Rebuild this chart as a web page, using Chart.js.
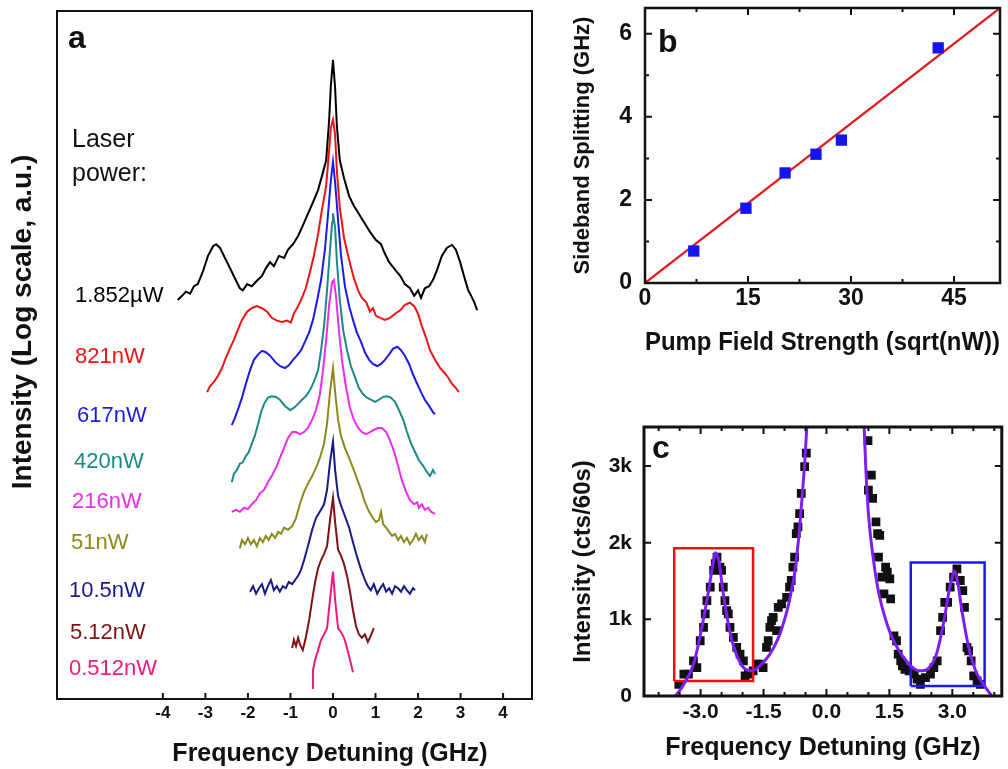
<!DOCTYPE html>
<html>
<head>
<meta charset="utf-8">
<script src="https://cdn.jsdelivr.net/npm/chart.js@4.4.1/dist/chart.umd.min.js"></script>
<style>
  body { margin: 0; background: #fff; width: 1008px; height: 769px; overflow: hidden; position: relative; }
  canvas { position: absolute; }
</style>
</head>
<body>
<canvas id="chartA" width="545" height="769" style="left:0;top:0"></canvas>
<canvas id="chartB" width="448" height="370" style="left:560px;top:0"></canvas>
<canvas id="chartC" width="448" height="369" style="left:560px;top:400px"></canvas>
<script>
// ---- panel a: spectra, [detuning GHz, log intensity a.u. with offset] ----
const p1852uW = [[-3.65,58.0],[-3.55,58.6],[-3.46,59.2],[-3.36,58.9],[-3.27,60.0],[-3.18,60.3],[-3.06,62.1],[-2.94,64.4],[-2.82,65.8],[-2.75,66.1],[-2.66,65.6],[-2.54,64.1],[-2.42,62.6],[-2.31,61.2],[-2.19,59.7],[-2.12,59.4],[-2.02,60.3],[-1.91,60.0],[-1.79,60.8],[-1.67,61.5],[-1.58,62.6],[-1.48,63.5],[-1.39,62.9],[-1.27,64.4],[-1.15,64.1],[-1.06,65.3],[-0.94,66.1],[-0.82,67.3],[-0.71,68.8],[-0.59,70.5],[-0.47,72.2],[-0.35,74.0],[-0.26,76.0],[-0.16,78.3],[-0.09,84.2],[-0.05,89.2],[0.00,92.9],[0.05,88.8],[0.09,83.4],[0.16,78.3],[0.26,75.7],[0.38,73.1],[0.49,71.7],[0.61,70.5],[0.73,69.3],[0.87,67.9],[1.01,66.7],[1.13,66.1],[1.20,65.0],[1.32,63.5],[1.46,62.4],[1.58,61.5],[1.69,60.3],[1.81,59.7],[1.91,58.6],[2.00,59.4],[2.07,58.3],[2.16,59.7],[2.26,60.0],[2.35,60.9],[2.45,62.4],[2.56,64.4],[2.68,65.6],[2.80,66.0],[2.89,65.3],[2.99,63.5],[3.08,61.5],[3.18,59.4],[3.25,58.6],[3.32,57.7],[3.39,56.5]];
const p821nW = [[-2.96,44.6],[-2.89,45.5],[-2.80,46.1],[-2.71,46.9],[-2.61,48.1],[-2.52,49.6],[-2.42,51.0],[-2.33,52.2],[-2.24,53.6],[-2.14,55.1],[-2.02,56.3],[-1.91,56.8],[-1.79,57.1],[-1.67,56.8],[-1.55,56.3],[-1.44,55.4],[-1.32,55.0],[-1.20,54.8],[-1.08,55.0],[-0.99,54.7],[-0.92,56.0],[-0.82,57.1],[-0.73,58.3],[-0.64,59.7],[-0.54,62.1],[-0.45,64.4],[-0.35,67.6],[-0.26,71.1],[-0.16,74.6],[-0.09,79.8],[-0.05,83.0],[0.00,84.2],[0.05,82.0],[0.09,76.9],[0.16,71.4],[0.26,67.0],[0.38,63.8],[0.49,61.2],[0.59,59.4],[0.68,58.3],[0.78,57.7],[0.87,56.3],[0.94,56.8],[1.01,55.7],[1.11,55.4],[1.22,55.1],[1.34,55.4],[1.46,56.0],[1.58,56.5],[1.69,57.3],[1.81,57.6],[1.91,57.1],[2.00,56.0],[2.09,54.2],[2.19,52.5],[2.28,50.7],[2.40,49.3],[2.52,48.1],[2.61,47.5],[2.71,46.7],[2.80,45.8],[2.89,45.2],[2.96,44.6]];
const p617nW = [[-2.38,39.8],[-2.31,40.8],[-2.24,42.0],[-2.14,43.8],[-2.05,45.8],[-1.95,47.8],[-1.86,49.3],[-1.76,50.1],[-1.67,50.6],[-1.58,50.4],[-1.48,49.9],[-1.36,49.0],[-1.25,48.4],[-1.13,48.1],[-1.04,48.5],[-0.94,49.3],[-0.85,49.9],[-0.75,50.7],[-0.66,51.9],[-0.56,53.3],[-0.47,55.1],[-0.38,57.7],[-0.28,60.9],[-0.19,65.3],[-0.12,70.2],[-0.05,75.4],[0.00,78.1],[0.05,75.1],[0.12,69.6],[0.19,64.4],[0.28,60.0],[0.38,57.1],[0.47,55.1],[0.56,53.3],[0.66,51.9],[0.75,50.4],[0.85,49.3],[0.94,48.7],[1.04,48.4],[1.13,48.7],[1.22,49.3],[1.32,50.1],[1.41,50.9],[1.51,51.2],[1.60,50.7],[1.69,49.9],[1.79,48.7],[1.88,47.2],[1.98,45.8],[2.07,44.6],[2.16,43.5],[2.26,42.6],[2.35,41.7],[2.40,41.4]];
const p420nW = [[-2.38,31.5],[-2.33,32.7],[-2.26,33.3],[-2.19,34.2],[-2.12,34.4],[-2.05,35.3],[-1.98,35.9],[-1.91,37.1],[-1.84,38.2],[-1.76,40.0],[-1.69,41.7],[-1.62,42.9],[-1.53,43.8],[-1.44,44.0],[-1.34,43.9],[-1.25,43.5],[-1.13,42.6],[-1.01,42.0],[-0.92,42.3],[-0.82,42.9],[-0.73,43.5],[-0.64,44.0],[-0.54,44.9],[-0.45,46.1],[-0.35,47.8],[-0.28,50.7],[-0.21,54.2],[-0.14,59.4],[-0.07,65.3],[-0.02,69.3],[0.00,70.6],[0.05,68.5],[0.09,63.8],[0.16,58.0],[0.24,53.6],[0.33,50.7],[0.42,48.4],[0.52,46.7],[0.61,45.2],[0.71,44.3],[0.80,43.8],[0.89,43.5],[0.99,43.2],[1.08,43.5],[1.18,43.9],[1.27,44.0],[1.36,43.8],[1.46,43.2],[1.55,42.0],[1.65,40.6],[1.74,38.8],[1.84,37.1],[1.93,35.9],[2.02,34.7],[2.12,33.9],[2.21,33.0],[2.28,32.4],[2.35,33.3],[2.40,32.7]];
const p216nW = [[-2.38,27.2],[-2.28,27.5],[-2.19,27.2],[-2.09,27.8],[-2.00,27.6],[-1.91,28.3],[-1.81,28.9],[-1.72,29.9],[-1.62,30.4],[-1.53,31.5],[-1.44,32.4],[-1.34,33.6],[-1.25,35.0],[-1.15,36.5],[-1.06,37.9],[-0.96,38.8],[-0.87,38.8],[-0.78,38.5],[-0.68,38.8],[-0.59,39.4],[-0.49,40.6],[-0.40,42.0],[-0.31,44.2],[-0.24,47.5],[-0.16,52.2],[-0.09,57.3],[-0.02,60.6],[0.02,60.9],[0.07,58.6],[0.14,53.6],[0.21,49.3],[0.31,45.2],[0.40,42.3],[0.49,40.6],[0.59,39.4],[0.68,38.8],[0.78,38.5],[0.87,38.8],[0.96,39.1],[1.06,39.4],[1.15,39.4],[1.25,38.8],[1.34,37.6],[1.44,35.9],[1.53,33.9],[1.62,31.8],[1.72,30.1],[1.81,28.9],[1.91,28.3],[1.98,28.6],[2.02,27.8],[2.09,28.3],[2.16,27.5],[2.24,27.8],[2.31,27.2],[2.40,26.9]];
const p51nW = [[-2.19,21.9],[-2.14,23.1],[-2.07,22.5],[-2.00,23.4],[-1.93,22.5],[-1.86,23.1],[-1.79,22.2],[-1.72,23.4],[-1.65,22.8],[-1.58,23.7],[-1.51,23.1],[-1.44,24.0],[-1.36,23.4],[-1.29,24.3],[-1.22,24.0],[-1.15,24.9],[-1.06,24.6],[-0.96,25.1],[-0.87,26.3],[-0.78,28.3],[-0.68,30.1],[-0.59,31.3],[-0.49,32.4],[-0.40,33.6],[-0.31,35.0],[-0.21,37.1],[-0.14,40.0],[-0.07,44.6],[0.00,48.1],[0.05,44.6],[0.12,40.6],[0.19,38.2],[0.28,36.5],[0.38,35.0],[0.47,33.6],[0.56,32.1],[0.66,30.4],[0.75,28.6],[0.85,27.2],[0.94,26.3],[1.01,25.7],[1.08,26.0],[1.13,27.2],[1.18,25.4],[1.25,24.9],[1.32,24.3],[1.39,23.7],[1.46,24.0],[1.53,23.1],[1.60,23.7],[1.67,22.8],[1.74,23.4],[1.81,22.5],[1.88,23.1],[1.95,24.0],[2.02,23.1],[2.09,23.7],[2.16,22.8],[2.21,24.0]];
const p10_5nW = [[-1.95,15.6],[-1.88,16.4],[-1.81,15.3],[-1.74,16.1],[-1.67,16.7],[-1.60,15.3],[-1.53,16.4],[-1.46,17.3],[-1.39,15.8],[-1.32,16.4],[-1.25,15.6],[-1.18,16.4],[-1.11,16.1],[-1.04,17.0],[-0.96,16.7],[-0.89,17.3],[-0.82,17.9],[-0.75,18.8],[-0.68,20.2],[-0.59,22.2],[-0.49,24.6],[-0.40,26.3],[-0.31,27.2],[-0.21,28.3],[-0.14,30.4],[-0.07,34.4],[0.00,37.4],[0.05,33.3],[0.12,29.5],[0.19,28.1],[0.28,26.6],[0.38,24.9],[0.47,22.8],[0.56,20.8],[0.66,18.8],[0.75,17.3],[0.82,16.4],[0.89,15.8],[0.96,16.7],[1.04,15.3],[1.11,16.1],[1.18,16.7],[1.25,15.6],[1.32,16.1],[1.39,15.3],[1.46,16.4],[1.53,16.1],[1.60,15.6],[1.67,16.4],[1.74,15.8],[1.81,15.3],[1.88,16.1],[1.93,15.8]];
const p5_12nW = [[-0.96,7.4],[-0.92,8.6],[-0.87,7.7],[-0.82,8.9],[-0.78,8.0],[-0.71,7.1],[-0.64,8.9],[-0.56,11.5],[-0.49,14.4],[-0.42,17.0],[-0.35,19.0],[-0.28,20.2],[-0.21,21.1],[-0.14,22.2],[-0.07,26.0],[0.00,29.2],[0.05,25.7],[0.12,21.7],[0.19,20.8],[0.26,19.6],[0.33,17.9],[0.40,15.6],[0.47,12.9],[0.54,10.6],[0.61,9.4],[0.68,8.9],[0.75,9.4],[0.82,8.3],[0.89,9.2],[0.96,10.3]];
const p0_512nW = [[-0.49,1.6],[-0.47,4.2],[-0.42,5.7],[-0.35,7.1],[-0.28,8.6],[-0.21,9.4],[-0.14,10.3],[-0.07,14.4],[0.00,18.5],[0.05,14.4],[0.12,10.3],[0.19,9.7],[0.26,8.9],[0.33,7.4],[0.40,5.7],[0.47,3.9]];

const spectra = [p1852uW, p821nW, p617nW, p420nW, p216nW, p51nW, p10_5nW, p5_12nW, p0_512nW];
const powerLabels = ['1.852\u00b5W', '821nW', '617nW', '420nW', '216nW', '51nW', '10.5nW', '5.12nW', '0.512nW'];
const powerColors = ['#000000', '#ee1414', '#1b1be6', '#1c8a84', '#ec2cec', '#8a8a1e', '#1a1a86', '#7e1212', '#f01a7c'];
const aTickValues = [-4, -3, -2, -1, 0, 1, 2, 3, 4];

// ---- panel b: sideband splitting ----
const pumpField = [7.1, 14.7, 20.4, 24.9, 28.6, 42.7];
const splitting = [0.77, 1.8, 2.65, 3.1, 3.44, 5.66];
const fitBX = [0, 51.7];
const fitBY = [0, 6.62];
const bXTicks = [0, 15, 30, 45];
const bYTicks = [0, 2, 4, 6];

// ---- panel c: counts vs detuning ----
const cDetuning = [-3.52,-3.40,-3.29,-3.17,-3.09,-3.01,-2.93,-2.89,-2.85,-2.77,-2.69,-2.65,-2.61,-2.54,-2.50,-2.46,-2.42,-2.38,-2.34,-2.30,-2.22,-2.14,-2.06,-1.98,-1.94,-1.86,-1.75,-1.67,-1.59,-1.51,-1.43,-1.39,-1.35,-1.31,-1.27,-1.19,-1.15,-1.07,-0.95,-0.88,-0.84,-0.80,-0.76,-0.72,-0.68,-0.64,-0.60,-0.52,-0.48,
  0.99,1.07,1.00,1.10,1.18,1.22,1.27,1.24,1.41,1.45,1.32,1.51,1.37,1.53,1.61,1.67,1.71,1.77,1.81,1.87,1.97,2.09,2.16,2.24,2.36,2.48,2.56,2.64,2.72,2.77,2.82,2.89,2.95,3.03,3.11,3.19,3.25,3.29,3.35,3.39,3.45,3.51,3.59,3.67];
const cCounts = [153,284,284,459,371,721,895,1071,1245,1420,1638,1726,1813,1682,1638,1420,1245,1114,1071,895,764,633,546,459,262,284,328,415,415,371,633,721,895,983,1026,852,1157,1201,1288,1420,1507,1682,1813,2119,2206,2381,2643,2992,3168,
  3333,2883,2687,2578,2271,2119,2097,1813,1682,1616,1551,1529,1333,1267,786,721,546,459,393,349,328,284,219,153,240,284,371,459,852,1026,1223,1223,1420,1551,1660,1507,1376,1157,633,590,459,262,197,153];
const fitLX = [-3.60,-3.40,-3.17,-2.97,-2.90,-2.81,-2.75,-2.69,-2.65,-2.58,-2.54,-2.50,-2.46,-2.34,-2.26,-2.18,-2.08,-1.98,-1.88,-1.78,-1.70,-1.59,-1.47,-1.35,-1.23,-1.11,-1.02,-0.92,-0.84,-0.76,-0.71,-0.66,-0.58,-0.52,-0.47,-0.45];
const fitLY = [0,153,415,895,1100,1376,1580,1769,1870,1800,1682,1500,1333,940,740,590,460,371,335,328,345,393,460,546,660,808,960,1157,1360,1595,1820,2075,2599,3037,3495,3700];
const fitRX = [0.88,0.90,0.94,1.00,1.10,1.22,1.37,1.53,1.73,1.97,2.08,2.20,2.36,2.46,2.56,2.64,2.72,2.80,2.87,2.94,2.99,3.02,3.05,3.10,3.15,3.21,3.27,3.35,3.43,3.51,3.59,3.74,3.94];
const fitRY = [3700,3495,2949,2381,1857,1420,1071,808,590,415,360,328,336,380,459,580,764,980,1201,1420,1529,1600,1630,1560,1420,1180,983,740,546,400,284,153,0];
const redBoxX = [-3.63, -1.75];
const redBoxY = [197, 1927];
const blueBoxX = [2.01, 3.77];
const blueBoxY = [131, 1743];
const cXTicks = [-3, -1.5, 0, 1.5, 3];
const cYTicks = [0, 1000, 2000, 3000];
const cYLabels = ['0', '1k', '2k', '3k'];

const FONT = '"Liberation Sans", Arial, Helvetica, sans-serif';
Chart.defaults.font.family = FONT;
Chart.defaults.color = '#111';

const toXY = pairs => pairs.map(([x, y]) => ({ x, y }));
const zipXY = (xs, ys) => xs.map((x, i) => ({ x, y: ys[i] }));
const boxPath = (bx, by) => [
  { x: bx[0], y: by[0] }, { x: bx[0], y: by[1] }, { x: bx[1], y: by[1] },
  { x: bx[1], y: by[0] }, { x: bx[0], y: by[0] }
];

// fix the size of an axis box so the plot area lands where the figure has it
function boxSize(size) {
  return function (scale) {
    if (scale.isHorizontal()) scale.height = size; else scale.width = size;
    scale.paddingTop = scale.paddingBottom = scale.paddingLeft = scale.paddingRight = 0;
  };
}

// frame around the plot plus inward tick marks
function makeFrame(cfg) {
  return {
    id: 'frame',
    afterDatasetsDraw(chart) {
      const { ctx, chartArea: a, scales } = chart;
      ctx.save();
      ctx.strokeStyle = '#111';
      ctx.lineWidth = cfg.width;
      ctx.strokeRect(a.left, a.top, a.right - a.left, a.bottom - a.top);
      ctx.lineWidth = cfg.tickWidth;
      ctx.beginPath();
      const mark = (vals, len, horiz) => vals.forEach(v => {
        if (horiz) {
          const p = scales.x.getPixelForValue(v);
          ctx.moveTo(p, a.bottom); ctx.lineTo(p, a.bottom - len);
          if (cfg.mirror) { ctx.moveTo(p, a.top); ctx.lineTo(p, a.top + len); }
        } else {
          const p = scales.y.getPixelForValue(v);
          ctx.moveTo(a.left, p); ctx.lineTo(a.left + len, p);
          if (cfg.mirror) { ctx.moveTo(a.right, p); ctx.lineTo(a.right - len, p); }
        }
      });
      mark(cfg.xMajor || [], cfg.major, true);
      mark(cfg.xMinor || [], cfg.minor, true);
      mark(cfg.yMajor || [], cfg.major, false);
      mark(cfg.yMinor || [], cfg.minor, false);
      ctx.stroke();
      ctx.restore();
    }
  };
}

// free text: panel letters, curve labels, titles
function makeNotes(items) {
  return {
    id: 'notes',
    afterDraw(chart) {
      const ctx = chart.ctx;
      items.forEach(n => {
        ctx.save();
        ctx.font = n.font;
        ctx.fillStyle = n.color || '#111';
        ctx.textAlign = n.align || 'left';
        ctx.textBaseline = n.baseline || 'alphabetic';
        ctx.translate(n.x, n.y);
        if (n.rotate) ctx.rotate(n.rotate);
        ctx.fillText(n.text, 0, 0);
        ctx.restore();
      });
    }
  };
}

const hidden = { display: false, drawTicks: false };
const common = {
  responsive: false,
  animation: false,
  events: [],
  plugins: { legend: { display: false }, tooltip: { enabled: false } }
};

// ---------- panel a ----------
const labelBaselines = [302, 363, 422, 468, 508, 549, 597, 639, 675];
const labelLefts = [75, 75, 77, 74, 72, 71, 69, 70, 69];
const notesA = [
  { text: 'a', x: 68, y: 48, font: 'bold 32px ' + FONT },
  { text: 'Laser', x: 72, y: 147, font: '25px ' + FONT },
  { text: 'power:', x: 72, y: 181, font: '25px ' + FONT },
  { text: 'Frequency Detuning (GHz)', x: 330, y: 761, align: 'center', font: 'bold 25px ' + FONT },
  { text: 'Intensity (Log scale, a.u.)', x: 23, y: 322, align: 'center', baseline: 'middle', rotate: -Math.PI / 2, font: 'bold 28px ' + FONT }
].concat(powerLabels.map((t, i) => ({
  text: t, x: labelLefts[i], y: labelBaselines[i], color: powerColors[i], font: '22px ' + FONT
})));

new Chart(document.getElementById('chartA'), {
  type: 'scatter',
  data: {
    datasets: spectra.map((s, i) => ({
      data: toXY(s), showLine: true, borderColor: powerColors[i], borderWidth: 2,
      pointRadius: 0, tension: 0
    }))
  },
  options: Object.assign({}, common, {
    layout: { padding: { top: 11, right: 13, left: 0, bottom: 0 } },
    scales: {
      x: {
        type: 'linear', min: -6.49, max: 4.68,
        afterBuildTicks: s => { s.ticks = aTickValues.map(v => ({ value: v })); },
        ticks: { autoSkip: false, maxRotation: 0, padding: 4, font: { size: 17, weight: 'bold' }, callback: v => String(v) },
        grid: hidden, border: { display: false },
        afterFit: boxSize(70)
      },
      y: {
        type: 'linear', min: 0, max: 100,
        ticks: { display: false }, grid: hidden, border: { display: false },
        afterFit: boxSize(57)
      }
    }
  }),
  plugins: [makeFrame({ width: 2, tickWidth: 2, major: 6, xMajor: aTickValues }), makeNotes(notesA)]
});

// ---------- panel b ----------
new Chart(document.getElementById('chartB'), {
  type: 'scatter',
  data: {
    datasets: [
      { data: zipXY(pumpField, splitting), pointStyle: 'rect', pointRadius: 8, pointBorderWidth: 0,
        backgroundColor: '#1414f0', borderColor: '#1414f0' },
      { data: zipXY(fitBX, fitBY), showLine: true, borderColor: '#e21b1b', borderWidth: 2.2, pointRadius: 0 }
    ]
  },
  options: Object.assign({}, common, {
    layout: { padding: { top: 8, right: 1, left: 0, bottom: 0 } },
    scales: {
      x: {
        type: 'linear', min: 0, max: 51.7,
        afterBuildTicks: s => { s.ticks = bXTicks.map(v => ({ value: v })); },
        ticks: { autoSkip: false, maxRotation: 0, padding: 2, font: { size: 23, weight: 'bold' }, callback: v => String(v) },
        grid: hidden, border: { display: false },
        title: { display: true, text: 'Pump Field Strength (sqrt(nW))', color: '#111',
          font: { size: 25, weight: 'bold' }, padding: { top: 0, bottom: 12 } },
        afterFit: boxSize(87)
      },
      y: {
        type: 'linear', min: 0, max: 6.62,
        afterBuildTicks: s => { s.ticks = bYTicks.map(v => ({ value: v })); },
        ticks: { autoSkip: false, padding: 13, font: { size: 23, weight: 'bold' }, callback: v => String(v) },
        grid: hidden, border: { display: false },
        title: { display: true, text: 'Sideband Splitting (GHz)', color: '#111',
          font: { size: 22, weight: 'bold' }, padding: { top: 10, bottom: 0 } },
        afterFit: boxSize(85)
      }
    }
  }),
  plugins: [
    makeFrame({ width: 2.5, tickWidth: 2, major: 7, minor: 4, mirror: true,
      xMajor: bXTicks, xMinor: [7.5, 22.5, 37.5], yMajor: bYTicks, yMinor: [1, 3, 5] }),
    makeNotes([{ text: 'b', x: 98, y: 52, font: 'bold 32px ' + FONT }])
  ]
});

// ---------- panel c ----------
new Chart(document.getElementById('chartC'), {
  type: 'scatter',
  data: {
    datasets: [
      { data: zipXY(fitLX, fitLY), showLine: true, borderColor: '#7d1ef5', borderWidth: 3, pointRadius: 0,
        cubicInterpolationMode: 'monotone' },
      { data: zipXY(fitRX, fitRY), showLine: true, borderColor: '#7d1ef5', borderWidth: 3, pointRadius: 0,
        cubicInterpolationMode: 'monotone' },
      { data: boxPath(redBoxX, redBoxY), showLine: true, borderColor: '#ee1111', borderWidth: 2.5, pointRadius: 0 },
      { data: boxPath(blueBoxX, blueBoxY), showLine: true, borderColor: '#1a1aee', borderWidth: 2.5, pointRadius: 0 },
      { data: zipXY(cDetuning, cCounts), pointStyle: 'rect', pointRadius: 6.2, pointBorderWidth: 0,
        backgroundColor: '#111', borderColor: '#111' }
    ]
  },
  options: Object.assign({}, common, {
    layout: { padding: { top: 27, right: 3, left: 0, bottom: 0 } },
    scales: {
      x: {
        type: 'linear', min: -4.35, max: 4.18,
        afterBuildTicks: s => { s.ticks = cXTicks.map(v => ({ value: v })); },
        ticks: { autoSkip: false, maxRotation: 0, padding: 4, font: { size: 21, weight: 'bold' }, callback: v => v.toFixed(1) },
        grid: hidden, border: { display: false },
        title: { display: true, text: 'Frequency Detuning (GHz)', color: '#111',
          font: { size: 25, weight: 'bold' }, padding: { top: 0, bottom: 6 } },
        afterFit: boxSize(73)
      },
      y: {
        type: 'linear', min: 0, max: 3510,
        afterBuildTicks: s => { s.ticks = cYTicks.map(v => ({ value: v })); },
        ticks: { autoSkip: false, padding: 12, font: { size: 21, weight: 'bold' },
          callback: v => cYLabels[cYTicks.indexOf(v)] },
        grid: hidden, border: { display: false },
        title: { display: true, text: 'Intensity (cts/60s)', color: '#111',
          font: { size: 24, weight: 'bold' }, padding: { top: 9, bottom: 0 } },
        afterFit: boxSize(84)
      }
    }
  }),
  plugins: [
    makeFrame({ width: 3, tickWidth: 2, major: 7, minor: 4, mirror: true,
      xMajor: cXTicks, xMinor: [-4, -3.5, -2.5, -2, -1, -0.5, 0.5, 1, 2, 2.5, 3.5, 4], yMajor: cYTicks }),
    makeNotes([{ text: 'c', x: 92, y: 58, font: 'bold 32px ' + FONT }])
  ]
});
</script>
</body>
</html>
